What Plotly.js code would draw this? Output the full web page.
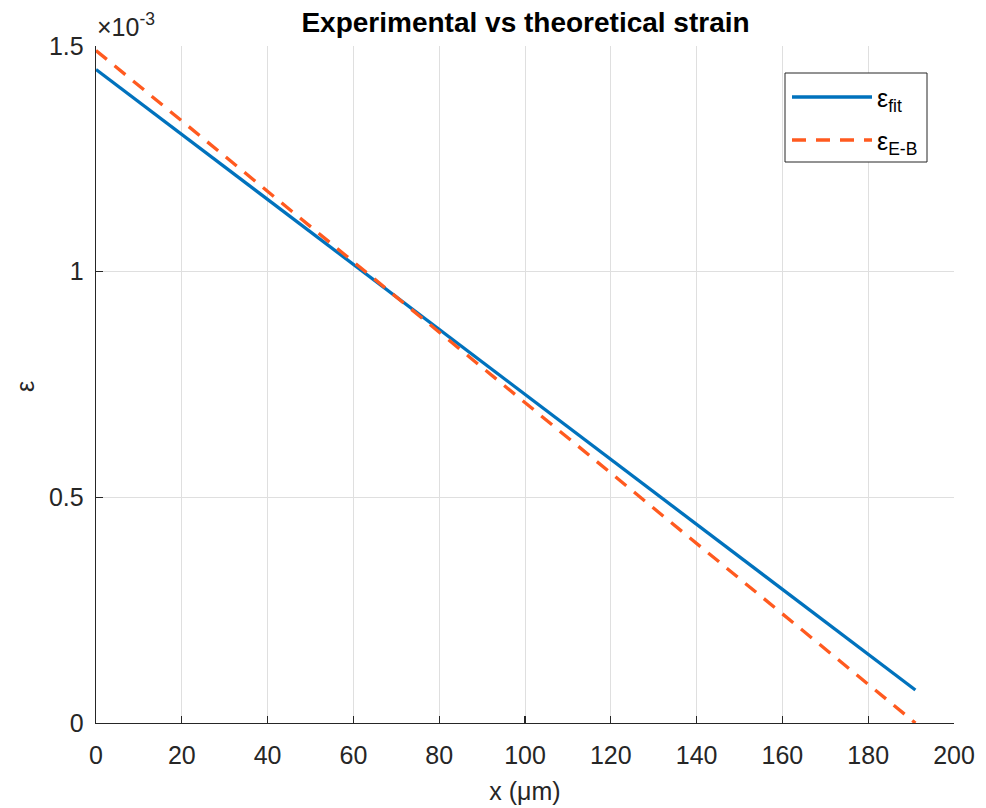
<!DOCTYPE html>
<html>
<head>
<meta charset="utf-8">
<script src="https://cdn.plot.ly/plotly-3.0.1.min.js"></script>
<style>html,body{margin:0;padding:0;background:#fff;}#chart{width:986px;height:808px;}</style>
</head>
<body>
<div id="chart"></div>
<script>
// Data
const xFit = [0, 191];
const epsFit = [1.448e-3, 0.073e-3];
const xEB = [0, 191];
const epsEB = [1.490e-3, 0.0];
const xTicks = [0, 20, 40, 60, 80, 100, 120, 140, 160, 180, 200];
const yTickVals = [0, 0.5e-3, 1.0e-3, 1.5e-3];
const yTickText = ['0', '0.5', '1', '1.5'];
const seriesNames = ['ε<sub>fit</sub>', 'ε<sub>E-B</sub>'];
const seriesColors = ['#0072BD', '#FF5A1F'];
const seriesDash = ['solid', '14px,10px'];

const font = 'Liberation Sans, Arial, Helvetica, sans-serif';
const ink = '#262626';
const W = 986, H = 808, mL = 96, mR = 32, mT = 46, mB = 85;
const pw = W - mL - mR, ph = H - mT - mB;
const px = v => (v - mL) / pw;          // pixel -> paper x
const py = v => 1 - (v - mT) / ph;      // pixel -> paper y

const traces = [
  {x: xFit, y: epsFit, mode: 'lines', name: seriesNames[0],
   line: {color: seriesColors[0], width: 3.3, dash: seriesDash[0]}},
  {x: xEB, y: epsEB, mode: 'lines', name: seriesNames[1],
   line: {color: seriesColors[1], width: 3.3, dash: seriesDash[1]}}
];

// Legend drawn by hand so the sample lines can be as long as in the reference
const legBox = {x0: 785, x1: 927, y0: 73, y1: 162};
const legRows = [97, 140];
const shapes = [
  {type: 'rect', xref: 'paper', yref: 'paper', x0: px(legBox.x0), x1: px(legBox.x1),
   y0: py(legBox.y0), y1: py(legBox.y1), line: {color: ink, width: 1}, fillcolor: '#fff', layer: 'above'}
];
const annotations = [
  {xref: 'paper', yref: 'paper', x: 0, y: 1, xanchor: 'left', yanchor: 'bottom',
   xshift: -1, yshift: 3, showarrow: false,
   text: '×10<sup>-3</sup>', font: {size: 25, color: ink, family: font}},
  {xref: 'paper', yref: 'paper', x: px(25), y: py(387), xanchor: 'center', yanchor: 'middle',
   showarrow: false, textangle: -90, text: 'ε', font: {size: 25, color: ink, family: font}}
];
legRows.forEach((yy, i) => {
  shapes.push({type: 'line', xref: 'paper', yref: 'paper', x0: px(792), x1: px(872),
    y0: py(yy), y1: py(yy), layer: 'above',
    line: {color: seriesColors[i], width: 3.3, dash: seriesDash[i]}});
  annotations.push({xref: 'paper', yref: 'paper', x: px(875), y: py(yy + 3),
    xanchor: 'left', yanchor: 'middle', showarrow: false, text: seriesNames[i],
    font: {size: 25, color: '#000', family: font}});
});

const layout = {
  width: W, height: H,
  margin: {l: mL, r: mR, t: mT, b: mB},
  paper_bgcolor: '#fff', plot_bgcolor: '#fff',
  font: {family: font, size: 25, color: ink},
  showlegend: false,
  title: {text: '<b>Experimental vs theoretical strain</b>', x: 0.533, xanchor: 'center',
          y: 0.972, yanchor: 'middle', font: {size: 28, color: '#000', family: font}},
  xaxis: {range: [0, 200], tickvals: xTicks, showgrid: true, gridcolor: '#dfdfdf', gridwidth: 1,
          zeroline: false, showline: true, linecolor: ink, linewidth: 1.3,
          ticks: 'inside', ticklen: 7, tickcolor: ink, tickwidth: 1.3,
          ticklabelstandoff: 10,
          tickfont: {size: 25, color: ink},
          title: {text: 'x (μm)', font: {size: 25, color: ink}, standoff: 14}},
  yaxis: {range: [0, 1.5e-3], tickvals: yTickVals, ticktext: yTickText, showgrid: true,
          gridcolor: '#dfdfdf', gridwidth: 1, zeroline: false, showline: true,
          linecolor: ink, linewidth: 1.3, ticks: 'inside', ticklen: 7, tickcolor: ink,
          tickwidth: 1.3, tickfont: {size: 25, color: ink}, ticklabelstandoff: 6},
  shapes: shapes,
  annotations: annotations
};

Plotly.newPlot('chart', traces, layout, {displayModeBar: false, staticPlot: true});
</script>
</body>
</html>
